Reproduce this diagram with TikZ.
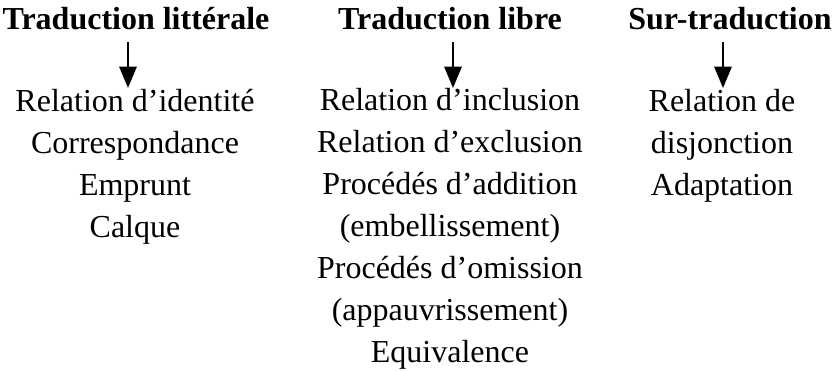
\documentclass[tikz,border=0pt]{standalone}
\usepackage{fontspec}
\setmainfont{Liberation Serif}
\usetikzlibrary{arrows.meta}
\tikzstyle{head}=[inner sep=0pt, anchor=base, font=\fontsize{24}{27}\selectfont\bfseries]
\tikzstyle{items}=[inner sep=0pt, anchor=base, align=center, font=\fontsize{24}{31.5}\selectfont]
\tikzstyle{down}=[line width=1.5pt, -{Triangle[width=13pt, length=16pt]}]

\begin{document}
\begin{tikzpicture}[x=0.75pt, y=-0.75pt]
\useasboundingbox (0,0) rectangle (832,371);
% the three headings
\node[head] (H0) at (136,29) {Traduction littérale};
\node[head] (H1) at (450,29) {Traduction libre};
\node[head] (H2) at (730,29) {Sur-traduction};
% the lists under them (placed by the baseline of their last line)
\node[items] (L0) at (135,237) {Relation d’identité\\Correspondance\\Emprunt\\Calque};
\node[items] (L1) at (450,362) {Relation d’inclusion\\Relation d’exclusion\\Procédés d’addition\\(embellissement)\\Procédés d’omission\\(appauvrissement)\\Equivalence};
\node[items] (L2) at (722,195) {Relation de\\disjonction\\Adaptation};
% the arrows
\coordinate (A0) at (128,42);
\coordinate (B0) at (128,88);
\coordinate (A1) at (453,42);
\coordinate (B1) at (453,88);
\coordinate (A2) at (723,42);
\coordinate (B2) at (723,88);
\draw[down] (A0) -- (B0);
\draw[down] (A1) -- (B1);
\draw[down] (A2) -- (B2);
\end{tikzpicture}
\end{document}
